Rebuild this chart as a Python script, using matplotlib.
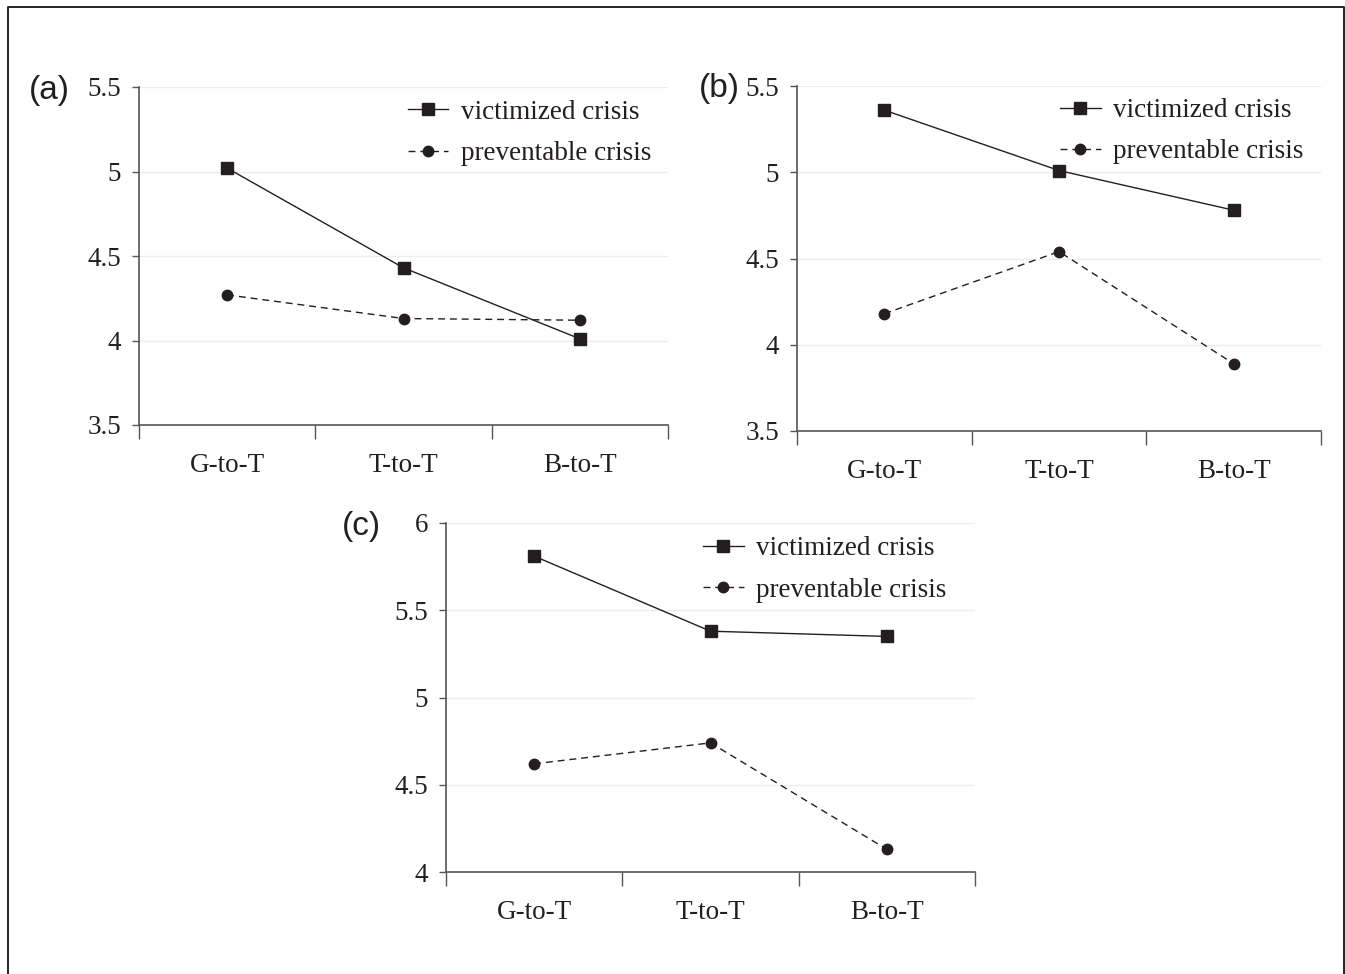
import matplotlib
matplotlib.use("Agg")
import matplotlib.pyplot as plt
from matplotlib.lines import Line2D

categories = ["G-to-T", "T-to-T", "B-to-T"]
series_names = ["victimized crisis", "preventable crisis"]

a_victimized = [5.02, 4.43, 4.01]
a_preventable = [4.27, 4.13, 4.12]
b_victimized = [5.36, 5.01, 4.78]
b_preventable = [4.18, 4.54, 3.89]
c_victimized = [5.81, 5.38, 5.35]
c_preventable = [4.62, 4.74, 4.13]

a_yticks = [3.5, 4, 4.5, 5, 5.5]
a_yticklabels = ["3.5", "4", "4.5", "5", "5.5"]
b_yticks = [3.5, 4, 4.5, 5, 5.5]
b_yticklabels = ["3.5", "4", "4.5", "5", "5.5"]
c_yticks = [4, 4.5, 5, 5.5, 6]
c_yticklabels = ["4", "4.5", "5", "5.5", "6"]

W, H = 1345, 974
fig = plt.figure(figsize=(W / 100, H / 100), dpi=100)
fig.patch.set_facecolor("white")

SERIF = ["Liberation Serif", "DejaVu Serif"]
SANS = ["Liberation Sans", "DejaVu Sans"]
FS = 19.5
DARK = "#231f20"
AXC = "#555555"


def px_rect(l, t, r, b):
    return [l / W, 1 - b / H, (r - l) / W, (b - t) / H]


panels = [
    dict(rect=px_rect(139, 87, 668, 425), vic=a_victimized, pre=a_preventable,
         yt=a_yticks, ytl=a_yticklabels, label="(a)", lab_xy=(29, 91),
         leg=(0.508, 0.962)),
    dict(rect=px_rect(797, 86, 1321, 431), vic=b_victimized, pre=b_preventable,
         yt=b_yticks, ytl=b_yticklabels, label="(b)", lab_xy=(699, 89),
         leg=(0.502, 0.965)),
    dict(rect=px_rect(446, 523, 975, 872), vic=c_victimized, pre=c_preventable,
         yt=c_yticks, ytl=c_yticklabels, label="(c)", lab_xy=(342, 526),
         leg=(0.486, 0.962)),
]

x = list(range(len(categories)))

for p in panels:
    ax = fig.add_axes(p["rect"])
    ax.set_xlim(-0.5, len(categories) - 0.5)
    ax.set_ylim(p["yt"][0], p["yt"][-1])
    for yv in p["yt"][1:]:
        ax.axhline(yv, color="#ececec", lw=1.0, zorder=0)
    ax.plot(x, p["vic"], color=DARK, lw=1.0, marker="s", markersize=8.5,
            label=series_names[0], zorder=3)
    ax.plot(x, p["pre"], color=DARK, lw=1.0, ls=(0, (5, 3.5)), marker="o",
            markersize=7.5, label=series_names[1], zorder=3)

    for s in ["top", "right"]:
        ax.spines[s].set_visible(False)
    for s in ["left", "bottom"]:
        ax.spines[s].set_color(AXC)
        ax.spines[s].set_linewidth(1.2)

    ax.set_yticks(p["yt"])
    ax.set_yticklabels(p["ytl"], fontfamily=SERIF, fontsize=FS, color=DARK)
    ax.tick_params(axis="y", length=5, width=1.0, color=AXC, pad=8)

    ax.set_xticks([i - 0.5 for i in range(len(categories) + 1)])
    ax.set_xticklabels([])
    ax.set_xticks(x, minor=True)
    ax.set_xticklabels(categories, minor=True, fontfamily=SERIF, fontsize=FS,
                       color=DARK)
    ax.tick_params(axis="x", which="major", length=10, width=1.0, color=AXC,
                   direction="out")
    ax.tick_params(axis="x", which="minor", length=0, pad=20)

    ax.legend(loc="upper left", bbox_to_anchor=p["leg"], frameon=False,
              prop={"family": SERIF, "size": FS}, handlelength=1.5,
              handletextpad=0.45, labelspacing=0.6, borderpad=0,
              borderaxespad=0, labelcolor=DARK)

    fig.text(p["lab_xy"][0] / W, 1 - p["lab_xy"][1] / H, p["label"],
             fontfamily=SANS, fontsize=24, color=DARK, ha="left", va="center")

# outer frame
frame = Line2D([8 / W, 8 / W, 1343.5 / W, 1343.5 / W],
               [-0.05, 1 - 7 / H, 1 - 7 / H, -0.05],
               transform=fig.transFigure, color="#222222", lw=1.4)
fig.add_artist(frame)

fig.savefig("out.png", dpi=100, facecolor="white")
